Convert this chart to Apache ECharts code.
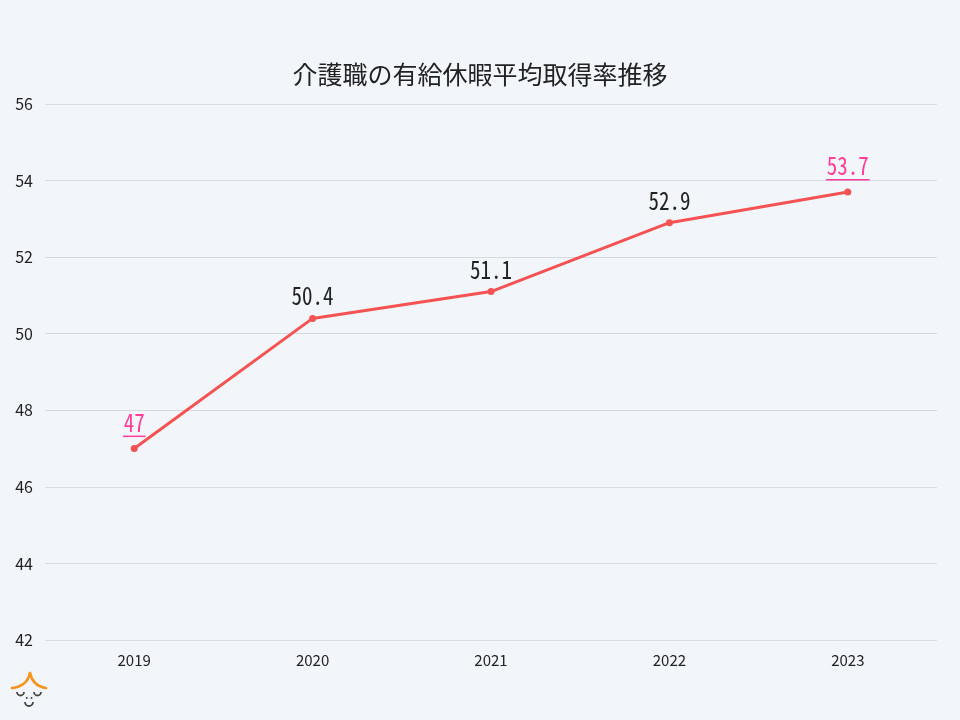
<!DOCTYPE html>
<html><head><meta charset="utf-8">
<script src="https://cdn.jsdelivr.net/npm/echarts@6/dist/echarts.min.js"></script>
<style>html,body{margin:0;padding:0;background:#f2f6fa}#c{width:960px;height:720px}</style>
</head><body><div id="c"></div>
<script>
const titleText = '介護職の有給休暇平均取得率推移';
const years = ['2019','2020','2021','2022','2023'];
const rates = [47, 50.4, 51.1, 52.9, 53.7];
const highlighted = [0, 4];
const yTicks = [42, 44, 46, 48, 50, 52, 54, 56];

const FONT = '"Noto Sans CJK JP", "Noto Sans", sans-serif';
const LFONT = '"Noto Sans Mono CJK JP", "Noto Sans CJK JP", monospace';
const PINK = '#ff3d9a';
const chart = echarts.init(document.getElementById('c'));
const ctx = document.createElement('canvas').getContext('2d');
const LABEL_SIZE = 25, SX = 0.84;
ctx.font = LABEL_SIZE + 'px ' + LFONT;

chart.setOption({
  backgroundColor: '#f2f6fa',
  title: { text: titleText, left: 'center', top: 57,
    textStyle: { fontFamily: FONT, fontSize: 25, fontWeight: 'normal', color: '#222' } },
  grid: { left: 45, right: 23, top: 104, bottom: 80 },
  xAxis: { type: 'category', data: years, boundaryGap: true,
    axisLine: { show: false }, axisTick: { show: false },
    axisLabel: { fontFamily: FONT, fontSize: 15, color: '#222', margin: 13 } },
  yAxis: { type: 'value', min: yTicks[0], max: yTicks[yTicks.length-1], interval: 2,
    axisLine: { show: false }, axisTick: { show: false },
    axisLabel: { fontFamily: FONT, fontSize: 16, color: '#222', margin: 12, align: 'right' },
    splitLine: { lineStyle: { color: '#d6dbe1', width: 1 } } },
  series: [{
    type: 'line', data: rates, symbol: 'circle', symbolSize: 7,
    lineStyle: { color: '#f55353', width: 3 }, itemStyle: { color: '#f55353' },
    label: { show: false }
  }, {
    type: 'custom', data: rates.map(function (v, i) { return [i, v]; }), z: 5,
    renderItem: function (params, api) {
      const i = api.value(0), v = api.value(1);
      const pt = api.coord([i, v]);
      const s = String(v);
      const hl = highlighted.indexOf(i) >= 0;
      const w = ctx.measureText(s).width;
      const children = [{
        type: 'text', x: 0, y: hl ? -14 : -10,
        style: { text: s, fontFamily: LFONT, fontSize: LABEL_SIZE, align: 'center', verticalAlign: 'bottom',
          fill: hl ? PINK : '#222' }
      }];
      if (hl) {
        children.push({ type: 'rect', shape: { x: -w/2 - 1, y: -13, width: w + 2, height: 1.5 }, style: { fill: PINK } });
      }
      return { type: 'group', x: pt[0], y: pt[1], scaleX: SX, children: children };
    }
  }],
  graphic: [
    { type: 'bezierCurve', shape: { x1: 30, y1: 673, x2: 12, y2: 688, cpx1: 28, cpy1: 682, cpx2: 22, cpy2: 687 },
      style: { stroke: '#f7941d', lineWidth: 2.6, fill: null, lineCap: 'round' } },
    { type: 'bezierCurve', shape: { x1: 30, y1: 673, x2: 46, y2: 688, cpx1: 32, cpy1: 682, cpx2: 38, cpy2: 687 },
      style: { stroke: '#f7941d', lineWidth: 2.6, fill: null, lineCap: 'round' } },
    { type: 'arc', shape: { cx: 20.5, cy: 692, r: 3.5, startAngle: 0, endAngle: Math.PI, clockwise: true },
      style: { stroke: '#444', lineWidth: 1.8, fill: null } },
    { type: 'arc', shape: { cx: 37.5, cy: 692, r: 3.5, startAngle: 0, endAngle: Math.PI, clockwise: true },
      style: { stroke: '#444', lineWidth: 1.8, fill: null } },
    { type: 'circle', shape: { cx: 26.8, cy: 698, r: 1 }, style: { fill: '#444' } },
    { type: 'circle', shape: { cx: 31.5, cy: 698, r: 1 }, style: { fill: '#444' } },
    { type: 'arc', shape: { cx: 29, cy: 702, r: 4, startAngle: 0, endAngle: Math.PI, clockwise: true },
      style: { stroke: '#444', lineWidth: 1.8, fill: null } }
  ]
});
</script></body></html>
